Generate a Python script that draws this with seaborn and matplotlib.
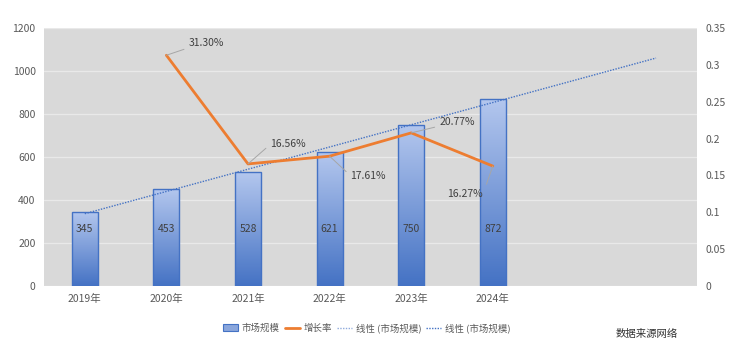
import numpy as np
import pandas as pd
import matplotlib
matplotlib.use("Agg")
import matplotlib.pyplot as plt
import seaborn as sns
from matplotlib.colors import LinearSegmentedColormap
from matplotlib.patches import Patch
from matplotlib.lines import Line2D

years = ["2019年", "2020年", "2021年", "2022年", "2023年", "2024年"]
market_size = [345, 453, 528, 621, 750, 872]
growth_years = ["2020年", "2021年", "2022年", "2023年", "2024年"]
growth_rate = [0.3130, 0.1656, 0.1761, 0.2077, 0.1627]
growth_labels = ["31.30%", "16.56%", "17.61%", "20.77%", "16.27%"]
trend_periods_forward = 2

sns.set_theme(style="white")
plt.rcParams['font.family'] = ['Noto Sans CJK SC', 'DejaVu Sans']

BLUE = "#4472c4"
LIGHT = "#b4c7ee"
ORANGE = "#ed7d31"
TXT = "#595959"

fig = plt.figure(figsize=(7.53, 3.52), dpi=100)
ax = fig.add_axes([0.0584, 0.1875, 0.867, 0.733])
ax.set_facecolor("#d9d9d9")

df = pd.DataFrame({"year": years, "size": market_size})
sns.barplot(data=df, x="year", y="size", width=0.32, color=BLUE, ax=ax, zorder=2)

# vertical gradient fill like the original chart
cmap = LinearSegmentedColormap.from_list("grad", [BLUE, LIGHT])
grad = np.linspace(0, 1, 256).reshape(-1, 1)
for p in ax.patches:
    x0, y0 = p.get_x(), p.get_y()
    w, h = p.get_width(), p.get_height()
    im = ax.imshow(grad, cmap=cmap, origin="lower", aspect="auto",
                   extent=[x0, x0 + w, y0, y0 + h], zorder=2)
    im.set_clip_path(p)
    p.set_facecolor("none")
    p.set_edgecolor(BLUE)
    p.set_linewidth(1.0)
    p.set_zorder(3)

for i, v in enumerate(market_size):
    ax.text(i, 265, str(v), ha="center", va="center", fontsize=7.5,
            color="#404040", zorder=5)

# linear trendline, forecast forward
xs = np.arange(len(market_size))
k, b = np.polyfit(xs, market_size, 1)
xt = np.array([0, len(market_size) - 1 + trend_periods_forward])
ax.plot(xt, k * xt + b, linestyle=(0, (1, 1)), color=BLUE, lw=1.0, zorder=4)

ax.set_xlim(-0.5, len(market_size) - 0.5 + trend_periods_forward)
ax.set_ylim(0, 1200)
ax.set_yticks(range(0, 1201, 200))
ax.set_xticks(range(len(years)))
ax.set_xticklabels(years)
ax.set_xlabel("")
ax.set_ylabel("")
ax.grid(True, axis="y", color="#e9e9e9", lw=0.9, zorder=0)
ax.set_axisbelow(True)
for s in ax.spines.values():
    s.set_visible(False)
ax.tick_params(axis="both", length=0, labelsize=7.5, labelcolor=TXT, pad=6)

ax2 = ax.twinx()
gx = [years.index(y) for y in growth_years]
sns.lineplot(x=gx, y=growth_rate, color=ORANGE, lw=2.0, ax=ax2, zorder=6)
ax2.set_ylim(0, 0.35)
ax2.set_yticks(np.arange(0, 0.351, 0.05))
ax2.set_yticklabels(["0", "0.05", "0.1", "0.15", "0.2", "0.25", "0.3", "0.35"])
ax2.set_facecolor("none")
for s in ax2.spines.values():
    s.set_visible(False)
ax2.tick_params(axis="y", length=0, labelsize=7.5, labelcolor=TXT, pad=6)
ax2.set_xlim(ax.get_xlim())

# growth labels with leader lines (offsets in points)
offsets = [(16, 9), (16, 14), (15, -14), (33, 8), (-7, -20)]
relpos = [(0, 0), (0, 0.5), (0, 0.5), (0.5, 0.5), (1, 0.5)]
has = ["left", "left", "left", "center", "right"]
for xi, yv, lab, off, rp, ha in zip(gx, growth_rate, growth_labels, offsets, relpos, has):
    ax2.annotate(lab, xy=(xi, yv), xytext=off, textcoords="offset points",
                 ha=ha, va="center", fontsize=7.5, color="#404040",
                 arrowprops=dict(arrowstyle="-", color="#a6a6a6", lw=0.7,
                                 relpos=rp, shrinkA=1, shrinkB=0),
                 zorder=7)

handles = [
    Patch(facecolor="#8aa6dc", edgecolor=BLUE, lw=0.8),
    Line2D([0], [0], color=ORANGE, lw=2.0),
    Line2D([0], [0], color="#8faadc", lw=1.0, linestyle=(0, (1, 1))),
    Line2D([0], [0], color=BLUE, lw=1.0, linestyle=(0, (1, 1))),
]
labels = ["市场规模", "增长率", "线性 (市场规模)", "线性 (市场规模)"]
fig.legend(handles, labels, loc="center", bbox_to_anchor=(0.487, 0.068), ncol=4,
           frameon=False, fontsize=6.8, handlelength=1.6, handletextpad=0.4,
           columnspacing=0.5, labelcolor=TXT)

fig.text(0.817, 0.052, "数据来源网络", fontsize=7.5, color="#333333", ha="left", va="center")

fig.savefig("out.png", dpi=100)
